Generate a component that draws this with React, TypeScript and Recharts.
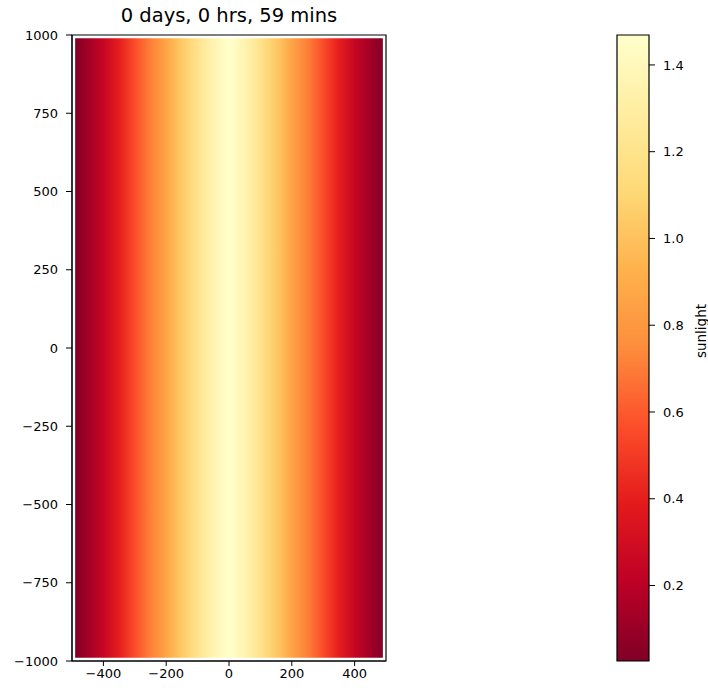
import React from 'react';
import { ComposedChart, XAxis, YAxis, ReferenceArea } from 'recharts';

// ---- data ----
const profileX = [-490, -450, -400, -350, -300, -250, -200, -150, -100, -50, 0, 50, 100, 150, 200, 250, 300, 350, 400, 450, 490];
const profileSunlight = [0.03, 0.13, 0.25, 0.40, 0.56, 0.71, 0.86, 1.04, 1.20, 1.36, 1.469, 1.36, 1.20, 1.04, 0.86, 0.71, 0.56, 0.40, 0.25, 0.13, 0.03];
const imageYRange = [-990, 990];
const xTicks = [-400, -200, 0, 200, 400];
const yTicks = [-1000, -750, -500, -250, 0, 250, 500, 750, 1000];
const cbarTicks = [0.2, 0.4, 0.6, 0.8, 1.0, 1.2, 1.4];
const sunlightMin = 0.026;
const sunlightMax = 1.469;
const title = '0 days, 0 hrs, 59 mins';
const cbarLabel = 'sunlight';
// YlOrRd reversed (low -> high)
const cmapStops = ['#800026', '#bd0026', '#e31a1c', '#fc4e2a', '#fd8d3c', '#feb24c', '#fed976', '#ffeda0', '#ffffcc'];

const FONT = '"DejaVu Sans", sans-serif';

function hexToRgb(h: string) {
  const n = parseInt(h.slice(1), 16);
  return [(n >> 16) & 255, (n >> 8) & 255, n & 255];
}
function cmap(t: number) {
  const tt = Math.max(0, Math.min(1, t));
  const pos = tt * (cmapStops.length - 1);
  const i = Math.min(Math.floor(pos), cmapStops.length - 2);
  const f = pos - i;
  const a = hexToRgb(cmapStops[i]);
  const b = hexToRgb(cmapStops[i + 1]);
  const c = a.map((v, k) => Math.round(v + (b[k] - v) * f));
  return `rgb(${c[0]},${c[1]},${c[2]})`;
}

const fmt = (v: number) => String(v).replace('-', '\u2212');
const tickStyle = { fill: '#000', fontSize: 13, fontFamily: FONT };

const chartData = profileX.map((x, i) => ({ x, sunlight: profileSunlight[i] }));
const cbarData = [
  { x: 0, sunlight: sunlightMin },
  { x: 1, sunlight: sunlightMax },
];

export default function App() {
  const x0 = profileX[0];
  const x1 = profileX[profileX.length - 1];
  return (
    <div style={{ position: 'absolute', left: 0, top: 0, width: 708, height: 691, background: '#fff', fontFamily: FONT }}>
      <div style={{ position: 'absolute', left: 0, top: 3, width: 458, height: 26, lineHeight: '26px', textAlign: 'center', fontSize: 19.5, color: '#000', whiteSpace: 'nowrap' }}>
        {title}
      </div>
      <div style={{ position: 'absolute', left: 0, top: 0 }}>
        <ComposedChart width={400} height={691} data={chartData} margin={{ top: 35, right: 14, bottom: 0, left: 0 }}>
          <defs>
            <linearGradient id="imgGrad" x1="0" y1="0" x2="1" y2="0">
              {profileX.map((x, i) => (
                <stop key={i} offset={(x - x0) / (x1 - x0)} stopColor={cmap((profileSunlight[i] - sunlightMin) / (sunlightMax - sunlightMin))} />
              ))}
            </linearGradient>
          </defs>
          <XAxis
            type="number"
            dataKey="x"
            domain={[-500, 500]}
            ticks={xTicks}
            tickFormatter={fmt}
            height={30}
            tickSize={5}
            tickMargin={3}
            tick={tickStyle}
            tickLine={{ stroke: '#000' }}
            axisLine={{ stroke: '#000' }}
            allowDataOverflow
          />
          <YAxis
            type="number"
            domain={[-1000, 1000]}
            ticks={yTicks}
            tickFormatter={fmt}
            width={72}
            tickSize={6}
            tickMargin={8}
            tick={tickStyle}
            tickLine={{ stroke: '#000' }}
            axisLine={{ stroke: '#000' }}
            allowDataOverflow
          />
          <ReferenceArea x1={x0} x2={x1} y1={imageYRange[0]} y2={imageYRange[1]} fill="url(#imgGrad)" fillOpacity={1} stroke="none" />
          <ReferenceArea x1={-500} x2={500} y1={-1000} y2={1000} fill="none" stroke="#000" strokeWidth={1.2} />
        </ComposedChart>
      </div>
      <div style={{ position: 'absolute', left: 600, top: 0 }}>
        <ComposedChart width={108} height={691} data={cbarData} margin={{ top: 35, right: 0, bottom: 30, left: 17 }}>
          <defs>
            <linearGradient id="cbarGrad" x1="0" y1="1" x2="0" y2="0">
              {cmapStops.map((c, i) => (
                <stop key={i} offset={i / (cmapStops.length - 1)} stopColor={c} />
              ))}
            </linearGradient>
          </defs>
          <XAxis type="number" dataKey="x" domain={[0, 1]} height={0} tick={false} tickLine={false} axisLine={false} allowDataOverflow />
          <YAxis
            type="number"
            dataKey="sunlight"
            orientation="right"
            domain={[sunlightMin, sunlightMax]}
            ticks={cbarTicks}
            tickFormatter={(v: number) => v.toFixed(1)}
            width={59}
            tickSize={6}
            tickMargin={8}
            tick={tickStyle}
            tickLine={{ stroke: '#000' }}
            axisLine={false}
            allowDataOverflow
          />
          <ReferenceArea x1={0} x2={1} y1={sunlightMin} y2={sunlightMax} fill="url(#cbarGrad)" fillOpacity={1} stroke="#000" strokeWidth={1.2} />
        </ComposedChart>
      </div>
      <div style={{ position: 'absolute', left: 701, top: 331, width: 0, height: 0 }}>
        <div style={{ position: 'absolute', left: -40, top: -9, width: 80, height: 18, lineHeight: '18px', textAlign: 'center', fontSize: 13.5, color: '#000', transform: 'rotate(-90deg)', whiteSpace: 'nowrap' }}>
          {cbarLabel}
        </div>
      </div>
    </div>
  );
}
